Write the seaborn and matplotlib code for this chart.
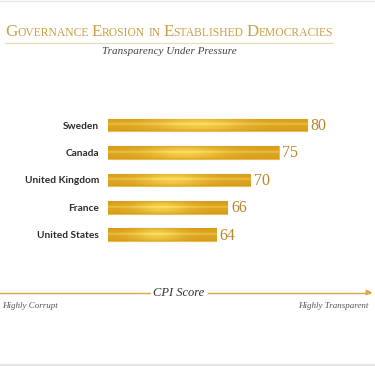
import numpy as np
import pandas as pd
import seaborn as sns
import matplotlib
matplotlib.use("Agg")
import matplotlib.pyplot as plt
from matplotlib.colors import to_rgb

# Data
countries = ["Sweden", "Canada", "United Kingdom", "France", "United States"]
cpi_scores = [80, 75, 70, 66, 64]
title_text = "Governance Erosion in Established Democracies"
subtitle_text = "Transparency Under Pressure"

df = pd.DataFrame({"country": countries, "score": cpi_scores})

# Style
sns.set_style("white")
plt.rcParams["font.family"] = ["Liberation Serif", "DejaVu Serif"]

W, H = 375, 366
fig = plt.figure(figsize=(W / 100, H / 100), dpi=100)
fig.patch.set_facecolor("white")

# axes in pixel coords
x0, x1 = 108, 364
y_top, y_bot = 111.3, 248.4
ax = fig.add_axes([x0 / W, 1 - y_bot / H, (x1 - x0) / W, (y_bot - y_top) / H])
xmin, xmax = 45, 90

gold = "#DDA62A"
sns.barplot(data=df, x="score", y="country", orient="h", color=gold,
            width=0.46, edgecolor="#EDBE45", linewidth=0.8, ax=ax, saturation=1)
ax.set_xlabel("")
ax.set_ylabel("")
ax.set_xticks([])
for s in ax.spines.values():
    s.set_visible(False)
ax.tick_params(axis="y", length=0, pad=6.5)
for lab in ax.get_yticklabels():
    lab.set_family(["Lato", "DejaVu Sans"])
    lab.set_fontweight("bold")
    lab.set_fontsize(7.3)
    lab.set_color("#2b2b2b")

# gradient fill on each bar
base = np.array(to_rgb("#DCA322"))
light = np.array(to_rgb("#FFE15E"))
dark = np.array(to_rgb("#CF9418"))
gx = np.linspace(0, 1, 200)[None, :]
gy = np.linspace(0, 1, 40)[:, None]
t = 0.65 * np.exp(-((gx - 0.45) / 0.22) ** 2) + 0.5 * np.exp(-((gy - 0.45) / 0.07) ** 2)
t = np.clip(t, 0, 1)
edge = np.clip(1 - np.abs(gy - 0.5) * 2, 0, 1)
d = (1 - edge) ** 3 * 0.6
img = base[None, None, :] * (1 - t[..., None]) + light[None, None, :] * t[..., None]
img = img * (1 - d[..., None]) + dark[None, None, :] * d[..., None]
img = np.clip(img, 0, 1)
for p in list(ax.patches):
    by, bh = p.get_y(), p.get_height()
    end = p.get_x() + p.get_width()
    im = ax.imshow(img, extent=[xmin, end, by + bh, by], aspect="auto",
                   interpolation="bilinear", zorder=1.2)
    im.set_clip_path(p)
    ax.text(end + 0.6, by + bh / 2 + 0.03, f"{end:.0f}",
            va="center", ha="left", fontsize=11.5, color="#B8862B", zorder=5)
ax.set_xlim(xmin, xmax)
ax.set_ylim(4.5, -0.5)
ax.set_axisbelow(False)
ax.yaxis.set_zorder(3)

# small caps title
fig.canvas.draw()
renderer = fig.canvas.get_renderer()
title_color = "#C9A045"
base_y = 1 - 35.5 / H
words = title_text.split(" ")


def draw_title(scale, keep):
    xpos = 5
    made = []
    for wi, word in enumerate(words):
        if word.lower() == "in":
            pieces = [(word.upper(), 10.0 * scale)]
        else:
            pieces = [(word[0].upper(), 14.5 * scale), (word[1:].upper(), 10.0 * scale)]
        for txt, fs in pieces:
            tt = fig.text(xpos / W, base_y, txt, fontsize=fs, color=title_color,
                          ha="left", va="baseline")
            made.append(tt)
            xpos += tt.get_window_extent(renderer).width
        if wi < len(words) - 1:
            xpos += 3.5 * scale
    if not keep:
        for tt in made:
            tt.remove()
    return xpos


w_full = draw_title(1.0, False) - 5
title_end = draw_title(331 / w_full, True)
fig.add_artist(plt.Line2D([5 / W, title_end / W], [1 - 42.5 / H] * 2,
                          color="#EADCB5", lw=0.9))
fig.text((5 + title_end) / 2 / W, 1 - 52 / H, subtitle_text, fontsize=8,
         style="italic", color="#444444", ha="center", va="center")

# axis line with arrow
ay = 1 - 292.5 / H
lc = "#D9A848"
fig.add_artist(plt.Line2D([0, 150 / W], [ay, ay], color=lc, lw=1))
fig.add_artist(plt.Line2D([208 / W, 370 / W], [ay, ay], color=lc, lw=1))
fig.add_artist(matplotlib.patches.FancyArrowPatch((366 / W, ay), (375 / W, ay),
               transform=fig.transFigure, arrowstyle="-|>", mutation_scale=8,
               color=lc, lw=1))
fig.text(179 / W, ay, "CPI Score", fontsize=9, style="italic", color="#333333",
         ha="center", va="center")
fig.text(2 / W, 1 - 305.5 / H, "Highly Corrupt", fontsize=6.5, style="italic",
         color="#555555", ha="left", va="center")
fig.text(368 / W, 1 - 305.5 / H, "Highly Transparent", fontsize=6.5, style="italic",
         color="#555555", ha="right", va="center")

# faint frame lines top and bottom
fig.add_artist(plt.Line2D([0, 1], [1 - 0.5 / H] * 2, color="#E6E6E6", lw=1))
fig.add_artist(plt.Line2D([0, 1], [0.8 / H] * 2, color="#E6E6E6", lw=1.5))

fig.savefig("out.png", dpi=100, facecolor="white")
